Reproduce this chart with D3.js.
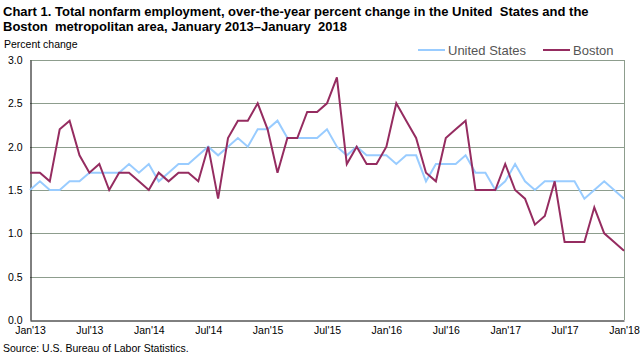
<!DOCTYPE html>
<html>
<head>
<meta charset="utf-8">
<script src="https://cdn.jsdelivr.net/npm/d3@7"></script>
<style>
  html, body { margin: 0; padding: 0; background: #fff; }
  svg { display: block; font-family: "Liberation Sans", Arial, sans-serif; }
  text { white-space: pre; }
</style>
</head>
<body>
<svg id="chart" width="644" height="360"></svg>
<script>
const titleLines = [
  "Chart 1. Total nonfarm employment, over-the-year percent change in the United  States and the",
  "Boston  metropolitan area, January 2013\u2013January  2018"
];
const yAxisTitle = "Percent change";
const sourceNote = "Source: U.S. Bureau of Labor Statistics.";
const seriesNames = ["United States", "Boston"];

// Monthly, January 2013 .. January 2018 (61 points)
const unitedStates = [
  1.5, 1.6, 1.5, 1.5, 1.6, 1.6, 1.7, 1.7, 1.7, 1.7,
  1.8, 1.7, 1.8, 1.6, 1.7, 1.8, 1.8, 1.9, 2.0, 1.9,
  2.0, 2.1, 2.0, 2.2, 2.2, 2.3, 2.1, 2.1, 2.1, 2.1,
  2.2, 2.0, 1.9, 2.0, 1.9, 1.9, 1.9, 1.8, 1.9, 1.9,
  1.6, 1.8, 1.8, 1.8, 1.9, 1.7, 1.7, 1.5, 1.6, 1.8,
  1.6, 1.5, 1.6, 1.6, 1.6, 1.6, 1.4, 1.5, 1.6, 1.5,
  1.4
];
const boston = [
  1.7, 1.7, 1.6, 2.2, 2.3, 1.9, 1.7, 1.8, 1.5, 1.7,
  1.7, 1.6, 1.5, 1.7, 1.6, 1.7, 1.7, 1.6, 2.0, 1.4,
  2.1, 2.3, 2.3, 2.5, 2.2, 1.7, 2.1, 2.1, 2.4, 2.4,
  2.5, 2.8, 1.8, 2.0, 1.8, 1.8, 2.0, 2.5, 2.3, 2.1,
  1.7, 1.6, 2.1, 2.2, 2.3, 1.5, 1.5, 1.5, 1.8, 1.5,
  1.4, 1.1, 1.2, 1.6, 0.9, 0.9, 0.9, 1.3, 1.0, 0.9,
  0.8
];
const xTickIndex = [0, 6, 12, 18, 24, 30, 36, 42, 48, 54, 60];
const xTickLabels = ["Jan'13","Jul'13","Jan'14","Jul'14","Jan'15","Jul'15","Jan'16","Jul'16","Jan'17","Jul'17","Jan'18"];
const yTicks = [0, 0.5, 1.0, 1.5, 2.0, 2.5, 3.0];

(function () {
const colors = { us: "#99ccff", boston: "#952c60", grid: "#8d9d8d" };
const svg = d3.select("#chart");
const pLeft = 30, pRight = 624, pTop = 60, pBottom = 320;

const x = d3.scaleLinear().domain([0, 60]).range([pLeft, pRight]);
const y = d3.scaleLinear().domain([0, 3]).range([pBottom, pTop]);

// Title
svg.append("g").selectAll("text").data(titleLines).join("text")
  .attr("x", 3).attr("y", (d, i) => 16 + i * 14.5)
  .attr("font-size", 13).attr("font-weight", "bold").attr("fill", "#000")
  .text(d => d);

svg.append("text").attr("x", 4).attr("y", 48)
  .attr("font-size", 10.5).attr("fill", "#000").text(yAxisTitle);

// Gridlines
svg.append("g").selectAll("line").data(yTicks.filter(v => v > 0)).join("line")
  .attr("x1", pLeft).attr("x2", pRight)
  .attr("y1", d => Math.round(y(d)) + 0.5).attr("y2", d => Math.round(y(d)) + 0.5)
  .attr("stroke", colors.grid).attr("stroke-width", 1);
// right border
svg.append("line").attr("x1", pRight + 0.5).attr("x2", pRight + 0.5)
  .attr("y1", pTop).attr("y2", pBottom).attr("stroke", colors.grid);

// Y axis
const yAxis = d3.axisLeft(y).tickValues(yTicks).tickFormat(d3.format(".1f")).tickSize(0).tickPadding(8);
const gy = svg.append("g").attr("transform", `translate(${pLeft + 0.5},0)`).call(yAxis);
gy.select(".domain").attr("stroke", "#000");
gy.selectAll("text").attr("font-size", 10.5).attr("font-family", "Liberation Sans, Arial, sans-serif").attr("fill", "#000");

// X axis
const xAxis = d3.axisBottom(x).tickValues(xTickIndex).tickFormat((d, i) => xTickLabels[i]).tickSize(0).tickPadding(6);
const gx = svg.append("g").attr("transform", `translate(0,${pBottom + 0.5})`).call(xAxis);
gx.select(".domain").attr("stroke", "#000");
gx.selectAll("text").attr("font-size", 10.5).attr("font-family", "Liberation Sans, Arial, sans-serif").attr("fill", "#000");

// Lines
const line = d3.line().x((d, i) => x(i)).y(d => y(d));
svg.append("path").datum(unitedStates).attr("d", line)
  .attr("fill", "none").attr("stroke", colors.us).attr("stroke-width", 2).attr("stroke-linejoin", "miter");
svg.append("path").datum(boston).attr("d", line)
  .attr("fill", "none").attr("stroke", colors.boston).attr("stroke-width", 2).attr("stroke-linejoin", "miter");

// Legend
const legend = [
  { name: seriesNames[0], color: colors.us, x: 418 },
  { name: seriesNames[1], color: colors.boston, x: 543 }
];
const lg = svg.append("g").selectAll("g").data(legend).join("g")
  .attr("transform", d => `translate(${d.x},50)`);
lg.append("line").attr("x1", 0).attr("x2", 27).attr("y1", 0).attr("y2", 0)
  .attr("stroke", d => d.color).attr("stroke-width", 2);
lg.append("text").attr("x", 30).attr("y", 5)
  .attr("font-size", 13).attr("fill", "#555").text(d => d.name);

// Source
svg.append("text").attr("x", 3).attr("y", 352)
  .attr("font-size", 10.5).attr("fill", "#000").text(sourceNote);
})();
</script>
</body>
</html>
